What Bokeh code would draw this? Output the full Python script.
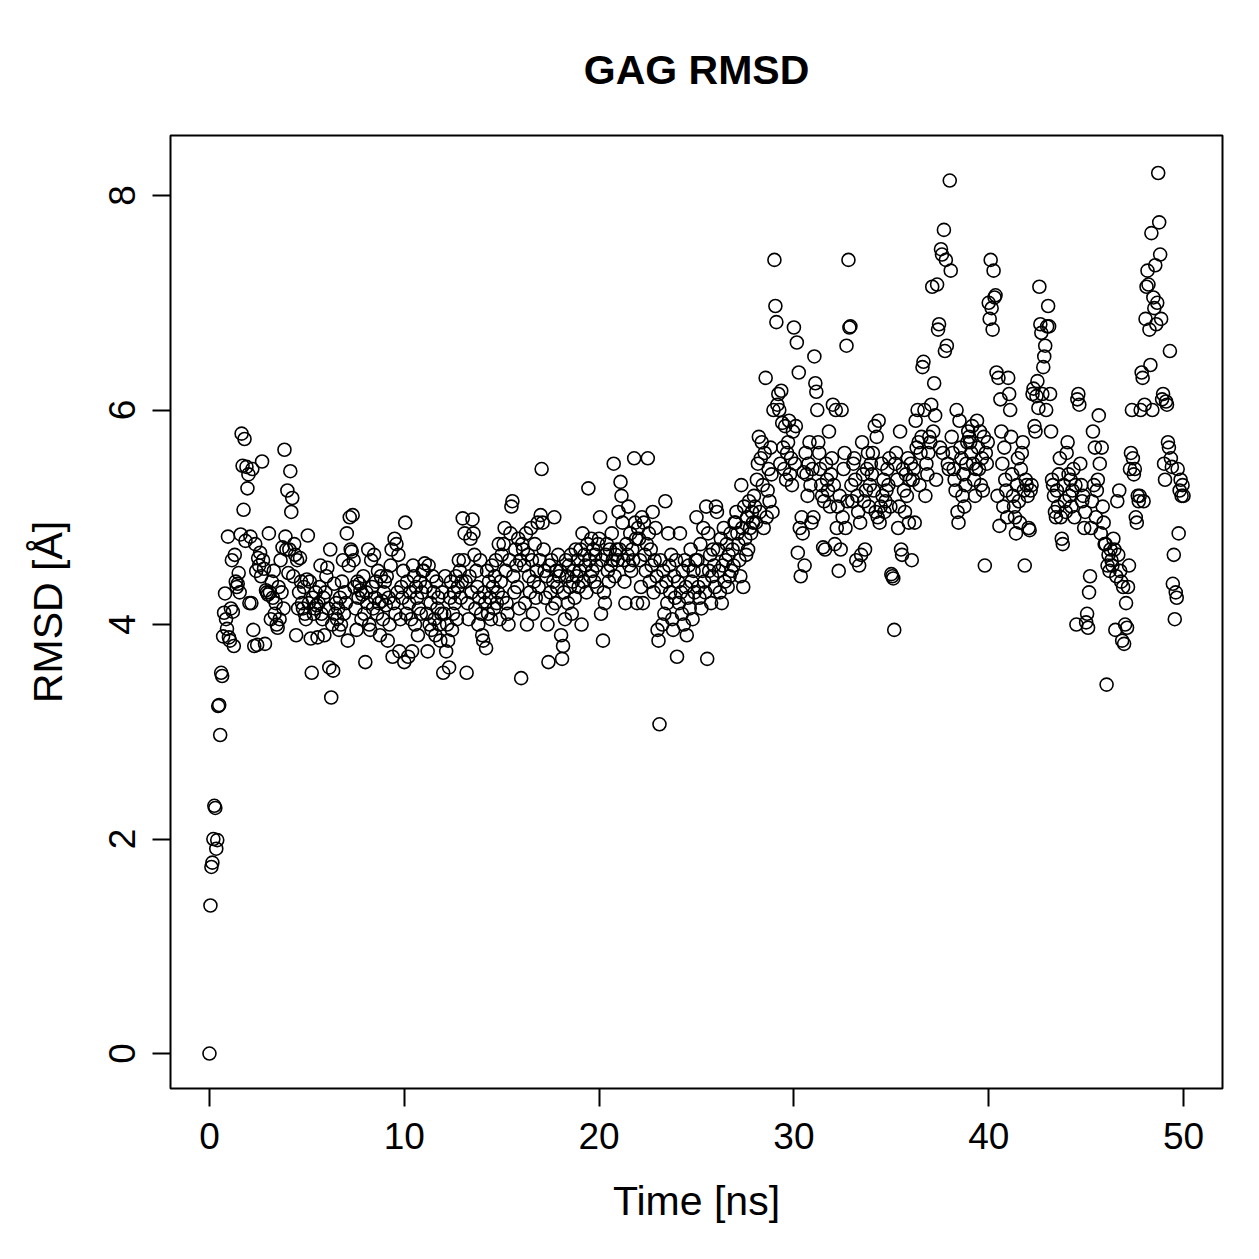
from bokeh.plotting import figure
from bokeh.models import FixedTicker, Range1d, ColumnDataSource
from bokeh.embed import file_html
from bokeh.resources import INLINE

# RMSD values (Angstrom), one frame every 0.05 ns, 0 .. 50 ns
rmsd = [
    0.00, 1.38, 1.74, 1.78, 2.00, 2.31, 2.29, 1.91, 1.99, 3.24, 3.25, 2.97, 3.55, 3.52, 3.89, 4.11, 4.29, 4.05, 3.96, 4.82,
    3.88, 3.85, 4.15, 4.60, 4.12, 3.80, 4.65, 4.40, 4.35, 4.38, 4.48, 4.30, 4.84, 5.78, 5.48, 5.07, 5.73, 4.78, 5.47, 5.27,
    5.40, 4.20, 4.82, 4.20, 5.45, 3.95, 3.80, 4.75, 4.50, 3.81, 4.62, 4.55, 4.67, 4.45, 5.52, 4.60, 4.52, 3.82, 4.32, 4.30,
    4.28, 4.85, 4.30, 4.05, 4.40, 4.25, 4.50, 4.10, 4.20, 4.00, 3.97, 4.35, 4.05, 4.60, 4.30, 4.72, 4.15, 5.63, 4.82, 4.70,
    5.25, 4.48, 4.70, 5.43, 5.05, 5.18, 4.45, 4.75, 4.65, 3.90, 4.60, 4.15, 4.30, 4.62, 4.40, 4.20, 4.15, 4.35, 4.10, 4.05,
    4.42, 4.83, 4.20, 4.40, 3.87, 3.55, 4.25, 4.10, 4.15, 4.30, 4.18, 3.88, 4.20, 4.35, 4.55, 4.10, 4.05, 4.25, 3.90, 4.30,
    4.45, 4.53, 4.15, 3.60, 4.70, 3.32, 4.00, 3.57, 4.38, 4.10, 4.20, 4.05, 4.15, 3.95, 4.25, 4.00, 4.40, 4.60, 4.10, 4.30,
    4.20, 4.85, 3.85, 4.55, 5.00, 4.70, 4.68, 5.02, 4.60, 4.35, 4.15, 3.95, 4.40, 4.25, 4.38, 4.32, 4.05, 4.28, 4.45, 4.10,
    3.65, 4.30, 4.20, 4.70, 4.00, 3.95, 4.60, 4.35, 4.15, 4.65, 4.25, 4.40, 4.10, 4.50, 4.20, 3.90, 4.45, 4.22, 4.05, 4.30,
    4.40, 4.18, 4.45, 3.85, 4.25, 4.00, 4.55, 4.70, 3.70, 4.20, 4.80, 4.10, 4.75, 4.30, 4.65, 3.75, 4.05, 4.35, 4.25, 4.50,
    3.65, 4.95, 4.10, 4.40, 3.70, 4.20, 4.30, 4.05, 3.75, 4.55, 4.45, 4.00, 4.35, 4.25, 3.90, 4.15, 4.40, 4.10, 4.30, 4.50,
    4.50, 4.57, 4.35, 4.10, 3.75, 4.55, 4.00, 4.20, 3.95, 4.45, 4.30, 4.05, 3.90, 4.40, 4.15, 4.25, 4.00, 3.85, 4.10, 4.30,
    3.55, 4.10, 4.45, 3.75, 4.00, 3.85, 3.60, 4.25, 4.40, 3.95, 4.10, 4.30, 4.20, 4.45, 4.05, 4.35, 4.60, 4.50, 4.25, 4.40,
    4.99, 4.60, 4.85, 4.40, 3.55, 4.20, 4.05, 4.45, 4.80, 4.30, 4.98, 4.85, 4.65, 4.15, 4.50, 4.35, 4.00, 4.25, 4.60, 4.10,
    3.90, 3.85, 4.30, 4.20, 3.78, 4.50, 4.10, 4.40, 4.25, 4.05, 4.55, 4.35, 4.15, 4.45, 4.60, 4.20, 4.30, 4.75, 4.05, 4.40,
    4.65, 4.25, 4.75, 4.90, 4.50, 4.20, 4.10, 4.00, 4.60, 4.85, 5.10, 5.15, 4.45, 4.30, 4.70, 4.55, 4.35, 4.80, 4.15, 4.60,
    3.50, 4.75, 4.70, 4.55, 4.20, 4.85, 4.00, 4.65, 4.45, 4.30, 4.90, 4.60, 4.10, 4.40, 4.75, 4.25, 4.50, 4.95, 4.35, 4.60,
    5.02, 5.45, 4.95, 4.70, 4.50, 4.25, 4.45, 4.00, 3.65, 4.55, 4.30, 4.60, 4.15, 4.40, 5.00, 4.20, 4.50, 4.35, 4.65, 4.45,
    4.50, 3.90, 3.68, 3.80, 4.30, 4.05, 4.60, 4.45, 4.20, 4.55, 4.35, 4.65, 4.10, 4.40, 4.50, 4.25, 4.70, 4.45, 4.60, 4.35,
    4.50, 4.70, 4.00, 4.85, 4.40, 4.65, 4.55, 4.30, 4.75, 5.27, 4.60, 4.45, 4.80, 4.50, 4.70, 4.40, 4.65, 4.55, 4.35, 4.75,
    4.80, 5.00, 4.10, 4.60, 3.85, 4.30, 4.20, 4.65, 4.75, 4.50, 4.40, 4.70, 4.55, 4.85, 4.60, 5.50, 4.45, 4.65, 4.70, 4.60,
    5.05, 4.70, 5.33, 5.20, 4.95, 4.60, 4.40, 4.20, 4.75, 4.65, 5.10, 4.55, 4.85, 4.50, 4.70, 4.60, 5.55, 4.95, 4.80, 4.20,
    4.90, 4.80, 4.60, 4.35, 5.00, 4.20, 4.95, 4.65, 4.50, 4.75, 5.55, 4.85, 4.40, 4.70, 4.55, 5.05, 4.30, 4.60, 4.90, 4.45,
    3.95, 3.85, 3.07, 4.60, 4.35, 4.00, 4.50, 4.10, 5.15, 4.40, 4.20, 4.85, 4.55, 4.30, 4.65, 4.05, 3.95, 4.45, 4.25, 4.60,
    3.70, 4.40, 4.20, 4.85, 4.30, 4.10, 4.50, 4.00, 4.60, 4.35, 3.90, 4.25, 4.55, 4.15, 4.70, 4.40, 4.05, 4.50, 4.30, 4.60,
    5.00, 4.60, 4.35, 4.25, 4.75, 4.15, 4.50, 4.90, 4.40, 4.30, 5.10, 3.68, 4.85, 4.50, 4.65, 4.20, 4.45, 4.70, 4.55, 4.35,
    5.10, 5.05, 4.70, 4.50, 4.30, 4.80, 4.20, 4.55, 4.90, 4.40, 4.60, 4.75, 4.35, 4.65, 4.45, 4.85, 4.50, 4.70, 4.55, 4.95,
    4.95, 5.05, 4.85, 4.75, 4.60, 4.45, 5.30, 4.90, 4.35, 5.10, 4.80, 4.65, 5.00, 4.70, 5.15, 4.90, 4.85, 5.05, 4.95, 5.20,
    5.10, 4.95, 5.35, 5.50, 5.75, 5.05, 5.55, 5.70, 5.30, 4.90, 5.60, 6.30, 5.00, 5.25, 5.45, 5.15, 5.65, 5.40, 5.05, 6.00,
    7.40, 6.97, 6.82, 6.05, 6.15, 6.00, 5.50, 6.18, 5.88, 5.65, 5.45, 5.85, 5.35, 5.60, 5.70, 5.90, 5.40, 5.55, 5.30, 5.80,
    6.77, 5.50, 5.85, 6.63, 4.67, 6.35, 4.90, 4.45, 5.00, 4.85, 5.42, 4.55, 5.60, 5.40, 5.20, 5.50, 5.70, 5.30, 4.95, 5.45,
    5.00, 6.50, 6.25, 6.17, 6.00, 5.70, 5.60, 5.45, 5.30, 5.20, 4.72, 5.15, 4.70, 5.50, 5.35, 5.25, 5.80, 5.10, 5.40, 5.55,
    6.05, 5.30, 4.75, 6.00, 4.90, 5.10, 4.50, 5.20, 4.70, 6.00, 5.00, 5.45, 5.60, 4.90, 6.60, 5.15, 7.40, 6.77, 6.78, 5.30,
    5.15, 5.50, 5.55, 5.35, 4.60, 5.20, 5.05, 4.55, 4.95, 4.65, 5.70, 5.40, 5.15, 4.70, 5.25, 5.45, 5.60, 5.10, 5.30, 5.50,
    5.40, 5.60, 5.25, 5.85, 5.05, 5.75, 5.00, 5.90, 4.95, 5.10, 5.50, 5.20, 5.35, 5.05, 5.15, 5.25, 5.45, 5.30, 5.55, 5.10,
    4.47, 4.45, 4.43, 3.95, 5.50, 5.60, 5.35, 4.90, 5.10, 5.80, 4.70, 4.65, 5.45, 5.25, 5.05, 5.40, 5.20, 5.55, 4.95, 5.35,
    5.50, 4.60, 5.35, 5.45, 4.95, 5.90, 5.65, 6.00, 5.70, 5.30, 5.60, 5.75, 6.40, 6.45, 6.00, 5.20, 5.50, 5.40, 5.60, 5.75,
    5.70, 6.05, 7.15, 5.80, 6.25, 5.95, 5.35, 7.17, 6.75, 6.80, 5.65, 7.50, 7.45, 5.60, 7.68, 6.55, 7.40, 6.60, 5.50, 5.45,
    8.14, 7.30, 5.75, 5.60, 5.45, 5.35, 5.25, 6.00, 5.05, 4.95, 5.90, 5.65, 5.55, 5.20, 5.40, 5.10, 5.30, 5.50, 5.70, 5.80,
    5.75, 5.70, 5.60, 5.85, 5.50, 5.35, 5.20, 5.45, 5.90, 5.65, 5.45, 5.80, 5.30, 5.55, 5.25, 5.75, 4.55, 5.60, 5.50, 5.70,
    7.00, 6.85, 7.40, 6.95, 6.75, 7.30, 7.05, 7.07, 6.35, 5.20, 6.30, 4.92, 6.10, 5.80, 5.50, 5.10, 5.65, 5.35, 5.25, 5.00,
    6.30, 6.15, 6.00, 5.75, 5.40, 5.20, 5.10, 5.00, 4.85, 5.30, 5.55, 5.15, 4.95, 5.45, 5.60, 5.70, 5.25, 4.55, 5.35, 5.30,
    5.20, 4.90, 4.88, 5.25, 5.30, 6.15, 6.20, 5.85, 5.80, 6.13, 6.27, 6.02, 7.15, 6.80, 6.72, 6.15, 6.40, 6.50, 6.60, 6.00,
    6.78, 6.97, 6.78, 6.15, 5.80, 5.35, 5.30, 5.20, 5.05, 5.00, 5.25, 5.10, 5.40, 5.55, 5.00, 4.80, 4.75, 5.30, 5.15, 5.05,
    5.60, 5.70, 5.40, 5.20, 5.35, 5.10, 5.25, 5.45, 5.00, 5.30, 4.00, 6.10, 6.15, 6.05, 5.50, 5.30, 5.15, 5.20, 4.90, 5.05,
    4.02, 4.10, 3.97, 4.30, 4.45, 4.90, 5.15, 5.80, 5.30, 5.65, 5.00, 5.25, 5.35, 5.95, 5.50, 4.85, 5.65, 5.10, 4.95, 4.75,
    4.75, 3.44, 4.55, 4.65, 4.50, 4.70, 4.60, 4.55, 4.80, 4.70, 3.95, 4.45, 5.15, 4.65, 5.25, 4.50, 4.40, 3.85, 4.35, 3.82,
    4.00, 4.20, 3.97, 4.35, 4.55, 5.45, 5.60, 6.00, 5.55, 5.40, 5.45, 5.00, 4.95, 5.20, 5.15, 5.20, 6.00, 6.35, 6.30, 5.15,
    6.05, 6.85, 7.15, 7.30, 7.17, 6.75, 6.42, 7.65, 6.00, 7.05, 6.95, 7.35, 6.80, 7.00, 8.21, 7.75, 7.45, 6.85, 6.10, 6.15,
    5.50, 5.35, 6.08, 6.05, 5.70, 5.65, 6.55, 5.55, 5.47, 4.38, 4.65, 4.05, 4.30, 4.25, 5.45, 4.85, 5.25, 5.35, 5.20, 5.30,
    5.20,
]
t_start, t_end = 0.0, 50.0
time_ns = [t_start + i * (t_end - t_start) / (len(rmsd) - 1) for i in range(len(rmsd))]

x_ticks = [0, 10, 20, 30, 40, 50]
y_ticks = [0, 2, 4, 6, 8]
title_text = "GAG RMSD"
x_label = "Time [ns]"
y_label = "RMSD [Å]"

FONT = "Liberation Sans"

xpad = 0.04 * (max(time_ns) - min(time_ns))

p = figure(width=1259, height=1259, output_backend="svg", toolbar_location=None,
           x_range=Range1d(min(time_ns) - xpad, max(time_ns) + xpad),
           y_range=Range1d(-0.326, 8.56),
           min_border_left=170, min_border_right=37,
           min_border_top=135, min_border_bottom=171)

p.background_fill_color = "white"
p.border_fill_color = "white"
p.outline_line_color = "black"
p.outline_line_width = 2
p.xgrid.visible = False
p.ygrid.visible = False

p.title.text = title_text
p.title.align = "center"
p.title.text_font = FONT
p.title.text_font_size = "41px"
p.title.text_font_style = "bold"
p.title.text_color = "black"
p.title.standoff = 86

src = ColumnDataSource(data=dict(t=time_ns, r=rmsd))
p.scatter(x="t", y="r", source=src, marker="circle", size=13,
          fill_color=None, line_color="black", line_width=1.6)

p.xaxis.ticker = FixedTicker(ticks=x_ticks)
p.yaxis.ticker = FixedTicker(ticks=y_ticks)
p.xaxis.axis_label = x_label
p.yaxis.axis_label = y_label
p.yaxis.major_label_orientation = "vertical"

for ax in p.axis:
    ax.axis_line_color = None
    ax.major_tick_out = 18
    ax.major_tick_in = 0
    ax.major_tick_line_width = 2
    ax.major_tick_line_color = "black"
    ax.minor_tick_out = 0
    ax.minor_tick_in = 0
    ax.minor_tick_line_color = None
    ax.major_label_text_font = FONT
    ax.major_label_text_font_size = "37px"
    ax.major_label_text_color = "black"
    ax.axis_label_text_font = FONT
    ax.axis_label_text_font_size = "41px"
    ax.axis_label_text_font_style = "normal"
    ax.axis_label_text_color = "black"

p.xaxis.major_label_standoff = 16
p.xaxis.axis_label_standoff = 26
p.yaxis.major_label_standoff = 17
p.yaxis.axis_label_standoff = 36

open("out.html", "w").write(file_html(p, INLINE))
